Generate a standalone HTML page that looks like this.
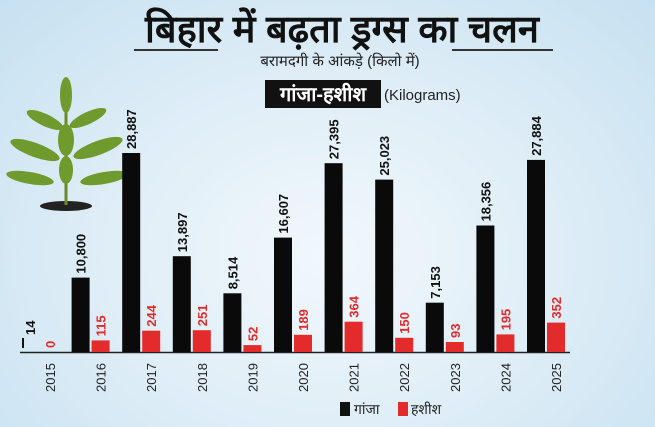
<!DOCTYPE html>
<html><head><meta charset="utf-8"><style>
html,body{margin:0;padding:0}
body{width:655px;height:427px;overflow:hidden;background:radial-gradient(ellipse at 50% 60%,#f2f8fc 0%,#dcecf6 55%,#c6e1f1 100%);font-family:"Liberation Sans",sans-serif}
</style></head><body>
<svg width="655" height="427" xmlns="http://www.w3.org/2000/svg" style="position:absolute;left:0;top:0">
<text x="342" y="42" text-anchor="middle" font-size="38" font-weight="bold" fill="#111" font-family="Liberation Sans, sans-serif">बिहार में बढ़ता ड्रग्स का चलन</text>
<line x1="134" y1="50" x2="218" y2="50" stroke="#333" stroke-width="2"/>
<line x1="452" y1="50" x2="553" y2="50" stroke="#333" stroke-width="2"/>
<text x="340" y="66" text-anchor="middle" font-size="15" fill="#222">बरामदगी के आंकड़े (किलो में)</text>
<rect x="265" y="80" width="116" height="28" fill="#111"/>
<text x="323" y="101" text-anchor="middle" font-size="20" font-weight="bold" fill="#fff">गांजा-हशीश</text>
<text x="384" y="100" font-size="15" fill="#222">(Kilograms)</text>
<!-- plant -->
<g>
<ellipse cx="66" cy="206" rx="26" ry="5" fill="#222"/>
<path d="M66 205 L66 85" stroke="#6a8a2a" stroke-width="3"/>
<g fill="#6f9a2e">
<ellipse cx="66" cy="95" rx="6" ry="18"/>
<ellipse cx="45" cy="120" rx="20" ry="6" transform="rotate(25 45 120)"/>
<ellipse cx="88" cy="118" rx="20" ry="6" transform="rotate(-25 88 118)"/>
<ellipse cx="35" cy="150" rx="26" ry="7" transform="rotate(20 35 150)"/>
<ellipse cx="98" cy="148" rx="26" ry="7" transform="rotate(-20 98 148)"/>
<ellipse cx="30" cy="178" rx="24" ry="6" transform="rotate(10 30 178)"/>
<ellipse cx="104" cy="178" rx="24" ry="6" transform="rotate(-10 104 178)"/>
<ellipse cx="66" cy="140" rx="8" ry="16"/>
<ellipse cx="66" cy="170" rx="7" ry="14"/>
</g>
</g>
<line x1="20" y1="352.5" x2="570" y2="352.5" stroke="#222" stroke-width="1.5"/>
<g id="bars"></g>
<rect x="340" y="402" width="10" height="14" fill="#111"/>
<text x="354" y="414" font-size="14" fill="#222">गांजा</text>
<rect x="398" y="402" width="10" height="14" fill="#e32b2b"/>
<text x="411" y="414" font-size="14" fill="#222">हशीश</text>
</svg>
<script>
var d=[[2015,14,0],[2016,10800,115],[2017,28887,244],[2018,13897,251],[2019,8514,52],[2020,16607,189],[2021,27395,364],[2022,25023,150],[2023,7153,93],[2024,18356,195],[2025,27884,352]];
var g=document.getElementById('bars'),s='';
d.forEach(function(r,i){
 var x=21+i*50.6;
 var hb=Math.max(r[1]*0.00689,0), hr=r[2]?r[2]*0.075+3:0;
 if(i>0) s+='<rect x="'+x.toFixed(1)+'" y="'+(352-hb).toFixed(1)+'" width="18" height="'+hb.toFixed(1)+'" fill="#0a0a0a"/>';
 else s+='<rect x="'+(x+1)+'" y="338" width="2" height="10" fill="#111"/>';
 s+='<rect x="'+(x+20).toFixed(1)+'" y="'+(352-hr).toFixed(1)+'" width="18" height="'+hr.toFixed(1)+'" fill="#e32b2b"/>';
 var lb=r[1].toLocaleString('en-US'), ty=(i>0?352-hb-4:335), tx=x+14;
 s+='<text transform="translate('+tx.toFixed(1)+','+ty.toFixed(1)+') rotate(-90)" font-size="13" font-weight="bold" fill="#111">'+lb+'</text>';
 var ry=352-hr-4, rx=x+34;
 s+='<text transform="translate('+rx.toFixed(1)+','+ry.toFixed(1)+') rotate(-90)" font-size="13" font-weight="bold" fill="#e32b2b">'+r[2]+'</text>';
 s+='<text transform="translate('+(x+34).toFixed(1)+',392) rotate(-90)" font-size="13" fill="#222">'+r[0]+'</text>';
});
g.innerHTML=s;
</script>
</body></html>
